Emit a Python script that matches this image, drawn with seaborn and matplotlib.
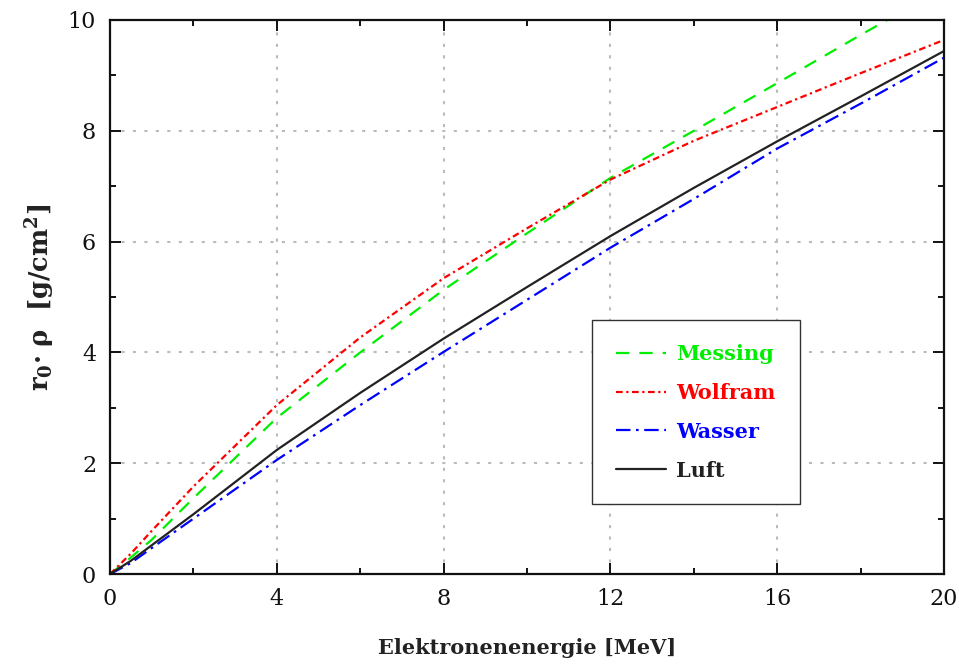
import numpy as np
import pandas as pd
import matplotlib
matplotlib.use("Agg")
import matplotlib.pyplot as plt
from matplotlib.ticker import MultipleLocator
import seaborn as sns

# Reichweite von Elektronen
energie = [0, 0.5, 1, 2, 4, 6, 8, 10, 12, 14, 16, 18, 20]
messing = [0, 0.30, 0.62, 1.37, 2.82, 4.00, 5.13, 6.15, 7.15, 8.00, 8.86, 9.73, 10.58]
wolfram = [0, 0.37, 0.78, 1.58, 3.05, 4.27, 5.34, 6.24, 7.12, 7.82, 8.43, 9.04, 9.64]
wasser = [0, 0.20, 0.47, 1.00, 2.06, 3.05, 4.01, 4.95, 5.89, 6.77, 7.68, 8.49, 9.32]
luft = [0, 0.24, 0.52, 1.08, 2.24, 3.27, 4.25, 5.18, 6.10, 6.97, 7.81, 8.62, 9.44]

namen = ["Messing", "Wolfram", "Wasser", "Luft"]
farben = ["#00ee00", "#ff0000", "#0000ff", "#222222"]
stile = [(0, (6, 4.5)), (0, (3, 1.6, 1, 1.6)), (0, (6.5, 2.5, 1.2, 2.5)), "-"]

sns.set_theme(style="ticks")
plt.rcParams["font.family"] = ["DejaVu Serif"]
plt.rcParams["mathtext.fontset"] = "custom"
plt.rcParams["mathtext.rm"] = "DejaVu Serif:bold"
plt.rcParams["mathtext.it"] = "DejaVu Serif:bold"
plt.rcParams["mathtext.bf"] = "DejaVu Serif:bold"

fig = plt.figure(figsize=(9.59, 6.66), dpi=100)
ax = fig.add_axes([0.1147, 0.138, 0.8697, 0.832])

werte = [messing, wolfram, wasser, luft]
for name, y, farbe, stil in zip(namen, werte, farben, stile):
    sns.lineplot(x=energie, y=y, ax=ax, color=farbe, linestyle=stil,
                 linewidth=1.6, label=name)

ax.set_xlim(0, 20)
ax.set_ylim(0, 10)
ax.xaxis.set_major_locator(MultipleLocator(4))
ax.xaxis.set_minor_locator(MultipleLocator(2))
ax.yaxis.set_major_locator(MultipleLocator(2))
ax.yaxis.set_minor_locator(MultipleLocator(1))
ax.tick_params(which="both", direction="in", top=True, right=True, width=1.4, colors="#111111")
ax.tick_params(which="major", length=8, labelsize=16, pad=10)
ax.tick_params(which="minor", length=4)
for s in ax.spines.values():
    s.set_linewidth(1.6)
    s.set_color("#111111")
ax.grid(True, which="major", linestyle=(0, (1.5, 4)), color="#bbbbbb", linewidth=1.5)

ax.set_xlabel("Elektronenenergie [MeV]", fontsize=15, fontweight="bold", labelpad=20, color="#222222")
ax.set_ylabel("r$_0$· ρ  [g/cm$^2$]", fontsize=18.5, fontweight="bold", labelpad=8, color="#222222")

leg = ax.legend(loc="upper left", bbox_to_anchor=(0.578, 0.458), borderaxespad=0,
                frameon=True, fancybox=False, edgecolor="#333333", framealpha=1,
                borderpad=1.15, handlelength=2.4, handletextpad=0.5, labelspacing=0.9,
                prop={"weight": "bold", "size": 15})
leg.get_frame().set_linewidth(1.0)
for txt, farbe in zip(leg.get_texts(), farben):
    txt.set_color(farbe)

fig.savefig("out.png", dpi=100)
